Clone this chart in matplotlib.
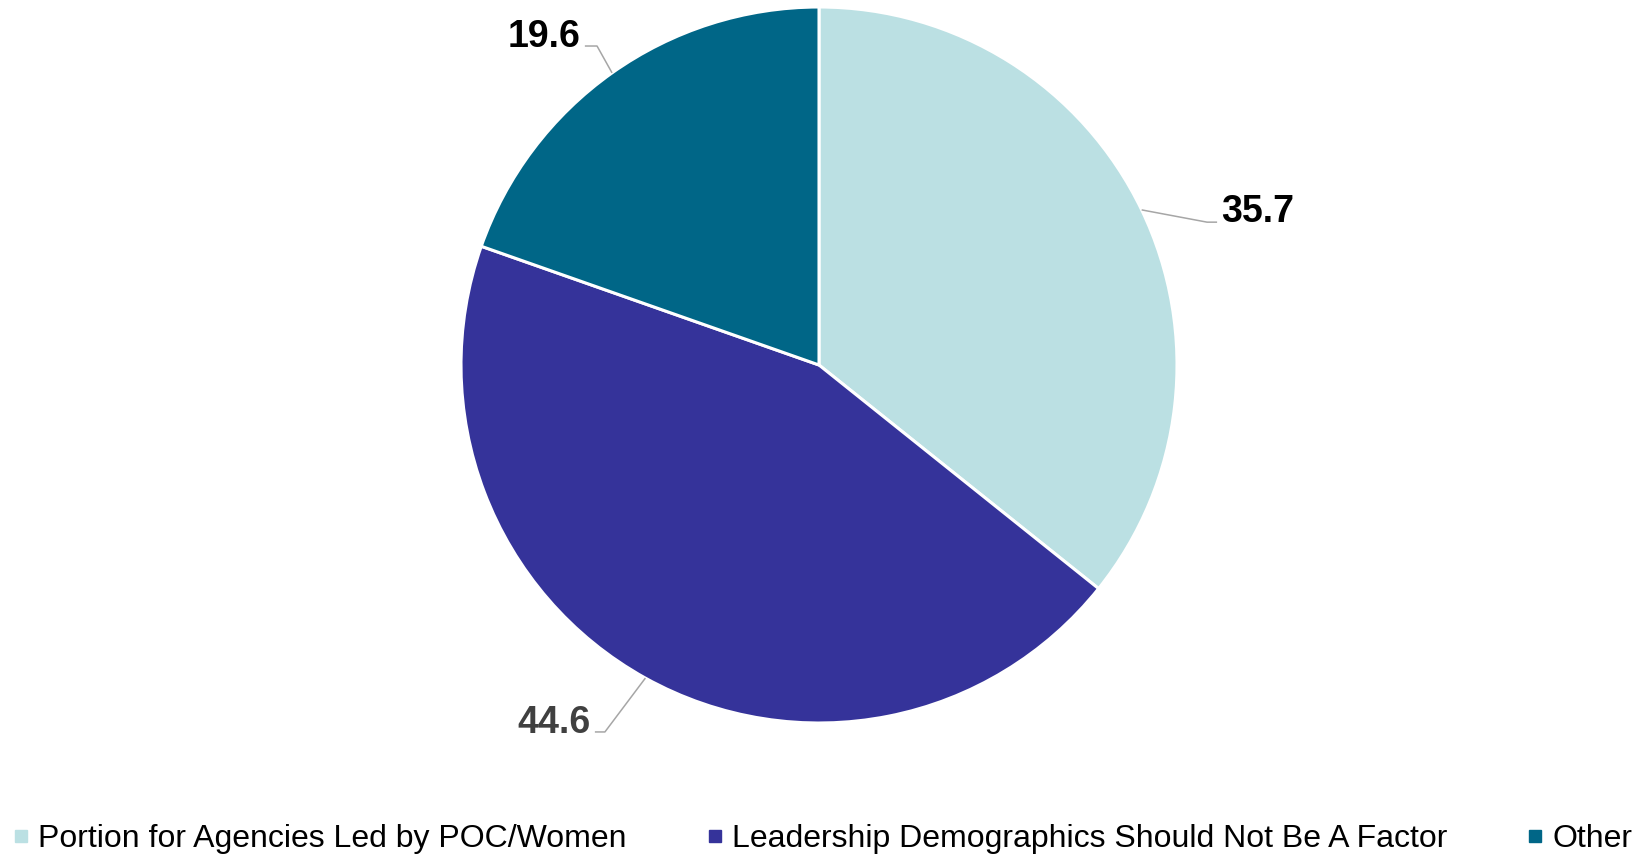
import matplotlib
matplotlib.use("Agg")
import matplotlib.pyplot as plt
from matplotlib.lines import Line2D
import numpy as np

plt.rcParams['font.family'] = ['Liberation Sans', 'DejaVu Sans']

categories = ["Portion for Agencies Led by POC/Women",
              "Leadership Demographics Should Not Be A Factor",
              "Other"]
values = [35.7, 44.6, 19.6]
value_labels = ["35.7", "44.6", "19.6"]
colors = ["#BBE0E3", "#35339A", "#006687"]
label_colors = ["#000000", "#404040", "#000000"]

# label layout (in pie-radius units)
label_pos = [(1.225, 0.399), (-0.740, -1.028), (-0.767, 0.888)]
leader_knee = [(1.084, 0.399), (-0.598, -1.025), (-0.620, 0.891)]
leader_tail = [(1.112, 0.399), (-0.626, -1.025), (-0.654, 0.891)]

W, H = 1642, 855
fig = plt.figure(figsize=(W / 100, H / 100), dpi=100)
cx, cy, r = 819, 365, 358
ax = fig.add_axes([(cx - r) / W, (H - cy - r) / H, 2 * r / W, 2 * r / H])

wedges, _ = ax.pie(values, colors=colors, startangle=90, counterclock=False,
                   radius=1, wedgeprops=dict(edgecolor="white", linewidth=2.2))
ax.set_xlim(-1, 1)
ax.set_ylim(-1, 1)
ax.set_aspect('equal')
ax.axis('off')

for w, lab, lc, pos, knee, tail in zip(wedges, value_labels, label_colors,
                                       label_pos, leader_knee, leader_tail):
    mid = np.deg2rad((w.theta1 + w.theta2) / 2)
    ex, ey = np.cos(mid), np.sin(mid)
    ax.plot([ex, knee[0], tail[0]], [ey, knee[1], tail[1]], color="#A6A6A6",
            lw=1.1, clip_on=False, solid_capstyle='butt')
    ax.text(pos[0], pos[1], lab, ha='center', va='baseline', fontsize=27,
            fontweight='bold', color=lc)

handles = [Line2D([0], [0], marker='s', linestyle='none', markersize=8.8,
                  markerfacecolor=c, markeredgecolor=c) for c in colors]
fig.legend(handles, categories, loc='center left',
           bbox_to_anchor=(14 / W, (H - 839) / H), ncol=3, frameon=False,
           fontsize=23.05, handlelength=0.42, handletextpad=0.32,
           columnspacing=2.55, borderpad=0, borderaxespad=0)

fig.savefig("out.png", dpi=100)
